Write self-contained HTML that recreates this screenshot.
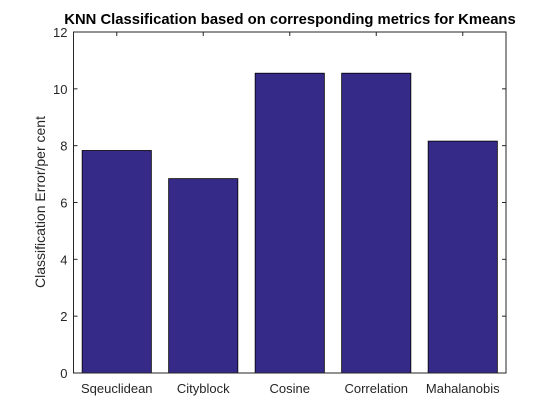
<!DOCTYPE html>
<html><head><meta charset="utf-8"><style>
body{margin:0;background:#fff;}
svg{display:block;font-family:"Liberation Sans",Arial,sans-serif;}
</style></head><body>
<svg id="chart" width="560" height="420">
<rect x="0" y="0" width="560" height="420" fill="#fff"/>
<text x="290" y="24" text-anchor="middle" font-size="14.8" font-weight="bold" fill="#000">KNN Classification based on corresponding metrics for Kmeans</text>
<text transform="translate(45,202) rotate(-90)" text-anchor="middle" font-size="14" fill="#262626">Classification Error/per cent</text>
<g id="marks"></g>
<rect x="73.5" y="32" width="432.5" height="341" fill="none" stroke="#262626" stroke-width="1"/>
</svg>
<script>
const categories = ["Sqeuclidean","Cityblock","Cosine","Correlation","Mahalanobis"];
const values = [7.83, 6.84, 10.55, 10.55, 8.16];
const yTicks = [0,2,4,6,8,10,12];

const L=73.5,R=506,T=32,B=373,yMax=12;
const y=v=>B-(v/yMax)*(B-T);
const band=(R-L)/categories.length;
const xc=i=>L+band*(i+0.5);
const ns="http://www.w3.org/2000/svg";
const g=document.getElementById('marks');
function mk(tag,attrs){const e=document.createElementNS(ns,tag);for(const k in attrs)e.setAttribute(k,attrs[k]);g.appendChild(e);return e;}

values.forEach((v,i)=>{
  const w=band*0.8;
  const r=mk('rect',{x:xc(i)-w/2,y:y(v),width:w,height:B-y(v),fill:'#352a87',stroke:'#000','stroke-width':0.8});
  
  
  const t=mk('text',{x:xc(i),y:B+20,'text-anchor':'middle','font-size':13,fill:'#262626'});
  t.textContent=categories[i];
  
  
  const tk=mk('line',{x1:xc(i),x2:xc(i),y1:T,y2:T+4,stroke:'#262626'});
  
  
});
yTicks.forEach(v=>{
  const t=mk('text',{x:L-6,y:y(v)+5,'text-anchor':'end','font-size':13,fill:'#262626'});
  t.textContent=v;
  
  
  const a=mk('line',{x1:L,x2:L+4,y1:y(v),y2:y(v),stroke:'#262626'});
  
  
  const b=mk('line',{x1:R-4,x2:R,y1:y(v),y2:y(v),stroke:'#262626'});
  
  
});
</script>
</body></html>
